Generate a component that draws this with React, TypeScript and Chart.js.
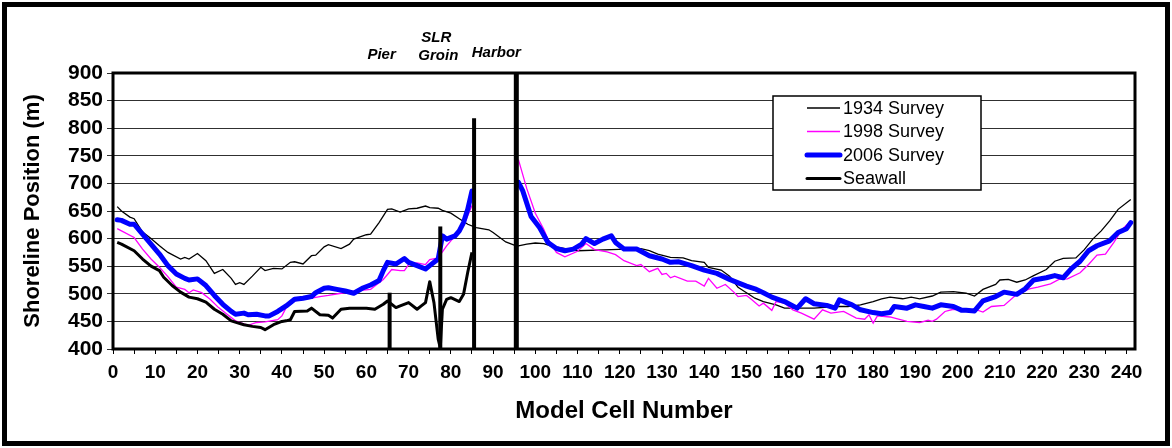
import { useEffect, useRef } from 'react';
import { Chart, registerables } from 'chart.js';

Chart.register(...registerables);

// ---- Data ----
const cells1934 = [1, 2, 4, 5, 7, 9, 11, 13, 16, 17, 18, 20, 22, 24, 26, 28, 29, 30, 31, 33, 35, 36, 38, 40, 42, 43, 45, 47, 48, 50, 51, 54, 56, 57, 60, 61, 63, 65, 66, 68, 70, 72, 74, 75, 77, 78, 80, 82, 84, 86, 89, 90, 93, 95, 96, 98, 100, 102, 104, 110, 118, 125, 127, 129, 132, 135, 137, 140, 141, 144, 146, 148, 150, 152, 154, 157, 159, 162, 166, 171, 174, 177, 180, 182, 184, 187, 189, 191, 194, 196, 199, 202, 204, 206, 209, 210, 212, 214, 216, 218, 221, 223, 225, 228, 230, 232, 234, 236, 238, 241];
const survey1934 = [658, 650, 639, 636, 612, 600, 587, 575, 563, 566, 563, 573, 560, 537, 544, 528, 517, 520, 517, 532, 548, 542, 546, 545, 557, 558, 554, 569, 570, 585, 589, 582, 590, 599, 607, 608, 629, 653, 654, 648, 654, 655, 659, 656, 655, 651, 646, 636, 626, 620, 616, 611, 594, 588, 587, 590, 592, 591, 586, 578, 580, 582, 578, 572, 566, 565, 560, 557, 548, 543, 532, 512, 502, 492, 486, 480, 474, 474, 474, 477, 477, 480, 486, 491, 494, 491, 494, 491, 496, 503, 504, 501, 496, 508, 517, 525, 526, 521, 525, 533, 544, 559, 564, 565, 580, 599, 614, 632, 653, 671];

const cells1998 = [1, 2, 5, 7, 9, 11, 13, 15, 17, 18, 19, 21, 23, 25, 27, 29, 32, 34, 36, 39, 40, 41, 43, 45, 47, 49, 51, 54, 57, 61, 62, 64, 66, 68, 69, 70, 72, 74, 75, 77, 79, 81, 83, 85, 90, 96, 98, 100, 102, 103, 105, 107, 110, 112, 114, 117, 119, 121, 124, 125, 127, 129, 130, 131, 132, 133, 136, 138, 140, 141, 143, 145, 147, 148, 150, 151, 153, 154, 156, 157, 159, 161, 163, 166, 168, 170, 173, 176, 178, 179, 180, 181, 184, 186, 188, 191, 193, 194, 195, 197, 199, 202, 204, 206, 208, 211, 214, 217, 219, 222, 224, 226, 229, 231, 233, 235, 237, 239, 241];
const survey1998 = [618, 614, 602, 581, 563, 548, 531, 512, 508, 502, 507, 502, 490, 475, 463, 451, 443, 448, 449, 453, 460, 475, 487, 490, 492, 495, 497, 501, 505, 508, 514, 526, 544, 542, 542, 553, 556, 553, 562, 565, 587, 605, 623, 660, null, 743, 690, 646, 617, 599, 575, 567, 577, 591, 580, 576, 571, 560, 551, 553, 540, 546, 535, 537, 529, 532, 523, 523, 514, 528, 510, 517, 503, 495, 497, 491, 478, 483, 470, 486, 483, 471, 465, 454, 471, 465, 468, 456, 454, 462, 447, 460, 458, 454, 450, 448, 452, 450, 454, 468, 472, 470, 472, 467, 477, 479, 499, 509, 512, 518, 526, 527, 538, 553, 570, 572, 593, 617, 632];

const cells2006 = [1, 2, 4, 5, 7, 9, 11, 13, 15, 17, 18, 20, 22, 24, 26, 28, 29, 31, 32, 34, 36, 37, 39, 41, 43, 45, 47, 48, 50, 51, 53, 55, 57, 59, 61, 63, 64, 65, 67, 69, 70, 72, 74, 75, 77, 78, 79, 81, 82, 83, 84, 85, 90, 96, 97, 99, 101, 103, 105, 107, 109, 111, 112, 114, 116, 118, 119, 121, 124, 127, 130, 132, 134, 137, 140, 143, 146, 147, 150, 152, 154, 156, 159, 162, 164, 166, 169, 171, 172, 175, 177, 180, 182, 184, 185, 188, 190, 192, 194, 196, 199, 201, 202, 204, 206, 209, 211, 214, 216, 218, 221, 223, 225, 227, 229, 231, 233, 236, 238, 240, 241];
const survey2006 = [634, 633, 626, 626, 608, 590, 572, 551, 536, 528, 525, 527, 515, 497, 481, 468, 463, 465, 462, 463, 460, 460, 468, 478, 490, 492, 495, 502, 510, 511, 508, 505, 501, 510, 516, 524, 542, 557, 554, 564, 557, 551, 545, 551, 563, 605, 599, 605, 614, 629, 653, 686, null, 702, 687, 640, 620, 593, 582, 578, 581, 590, 600, 591, 599, 605, 593, 581, 581, 569, 563, 557, 558, 551, 543, 537, 526, 523, 514, 509, 502, 494, 486, 474, 491, 482, 479, 474, 489, 480, 471, 466, 464, 466, 477, 474, 480, 477, 474, 480, 477, 470, 470, 469, 487, 495, 503, 499, 509, 525, 529, 533, 529, 546, 559, 578, 587, 596, 611, 618, 629];

const cellsSeawall = [1, 2, 5, 7, 9, 11, 12, 14, 16, 18, 20, 22, 24, 26, 28, 31, 33, 35, 36, 38, 40, 41, 42, 43, 46, 47, 49, 51, 52, 54, 56, 58, 60, 62, 64, 65, 67, 68, 70, 72, 73, 74, 75, 76, 77, 77.5, 78, 79, 80, 82, 83, 84, 85];
const seawall = [593, 590, 578, 563, 550, 542, 530, 515, 503, 494, 491, 485, 472, 463, 451, 444, 441, 439, 435, 444, 450, 451, 453, 468, 469, 474, 462, 461, 456, 472, 474, 474, 474, 472, 481, 487, 475, 478, 484, 472, 478, 484, 522, 484, 418, 402, 472, 490, 493, 486, 499, 539, 575];

// Structures (vertical lines from the base of the plot up to their top value)
const structureCells = [65.5, 77.5, 85.5, 95.5];
const structureTops = [502, 622, 818, 900];
const structureBase = 400;

const structureLabels = ['Pier', 'SLR', 'Groin', 'Harbor'];
const structureLabelCells = [65.5, 77.5, 77.5, 95.5];

const legendNames = ['1934 Survey', '1998 Survey', '2006 Survey', 'Seawall'];

const yMin = 400;
const yMax = 900;
const yStep = 50;
const xMin = 0;
const xMax = 242;

const FONT = 'Arial, "Liberation Sans", Helvetica, sans-serif';

function pairs(xs: number[], ys: (number | null)[]) {
  return xs.map((x, i) => ({ x, y: ys[i] === null || ys[i] === undefined ? null : ys[i] }));
}

const legendStyles = [
  { color: '#000000', width: 1.3 },
  { color: '#FF00FF', width: 1.3 },
  { color: '#0000FF', width: 5 },
  { color: '#000000', width: 3 },
];

const decorPlugin = {
  id: 'decor',
  beforeDatasetsDraw(chart: any) {
    const { ctx, chartArea: a } = chart;
    ctx.save();
    ctx.strokeStyle = '#000';
    ctx.lineWidth = 3;
    ctx.strokeRect(a.left, a.top, a.right - a.left, a.bottom - a.top);
    ctx.restore();
  },
  afterDraw(chart: any) {
    const { ctx } = chart;
    const xs = chart.scales.x;
    ctx.save();
    // Legend box
    const bx = 773, by = 96, bw = 208, bh = 94;
    ctx.fillStyle = '#fff';
    ctx.fillRect(bx, by, bw, bh);
    ctx.strokeStyle = '#000';
    ctx.lineWidth = 1.5;
    ctx.strokeRect(bx, by, bw, bh);
    ctx.font = '18px ' + FONT;
    ctx.textBaseline = 'middle';
    ctx.textAlign = 'left';
    legendNames.forEach((name, i) => {
      const y = 108 + i * 23.5;
      const st = legendStyles[i];
      ctx.beginPath();
      ctx.strokeStyle = st.color;
      ctx.lineWidth = st.width;
      ctx.lineCap = st.width > 2 ? 'round' : 'butt';
      ctx.moveTo(807, y);
      ctx.lineTo(840, y);
      ctx.stroke();
      ctx.fillStyle = '#000';
      ctx.fillText(name, 843, y + 1);
    });
    // Structure labels
    ctx.font = 'italic bold 15px ' + FONT;
    ctx.textAlign = 'center';
    ctx.fillStyle = '#000';
    const dx = [-8, -4, -2, -20];
    const ly = [55, 38, 56, 53];
    structureLabels.forEach((t, i) => {
      ctx.fillText(t, xs.getPixelForValue(structureLabelCells[i]) + dx[i], ly[i]);
    });
    // Outer frame
    ctx.strokeStyle = '#000';
    ctx.lineWidth = 5;
    ctx.lineCap = 'butt';
    ctx.strokeRect(4.5, 4.5, 1163, 439);
    ctx.restore();
  },
};

export default function App() {
  const ref = useRef<HTMLCanvasElement>(null);
  useEffect(() => {
    const canvas = ref.current;
    if (!canvas) return;
    const structureSets = structureCells.map((c, i) => ({
      label: 'structure' + i,
      data: [
        { x: c, y: structureBase },
        { x: c, y: structureTops[i] },
      ],
      borderColor: '#000',
      borderWidth: i === 3 ? 5 : 4,
      pointRadius: 0,
      order: 0,
    }));
    const chart = new Chart(canvas, {
      type: 'line',
      data: {
        datasets: [
          {
            label: legendNames[0],
            data: pairs(cells1934, survey1934),
            borderColor: '#000000',
            borderWidth: 1.3,
            pointRadius: 0,
            order: 4,
          },
          {
            label: legendNames[1],
            data: pairs(cells1998, survey1998),
            borderColor: '#FF00FF',
            borderWidth: 1.3,
            pointRadius: 0,
            order: 3,
          },
          {
            label: legendNames[2],
            data: pairs(cells2006, survey2006),
            borderColor: '#0000FF',
            borderWidth: 5,
            borderJoinStyle: 'round',
            borderCapStyle: 'round',
            pointRadius: 0,
            order: 2,
          },
          {
            label: legendNames[3],
            data: pairs(cellsSeawall, seawall),
            borderColor: '#000000',
            borderWidth: 3,
            borderJoinStyle: 'round',
            pointRadius: 0,
            order: 1,
          },
          ...structureSets,
        ] as any,
      },
      options: {
        responsive: false,
        animation: false,
        devicePixelRatio: 1,
        spanGaps: false,
        layout: { padding: { top: 73, right: 37, left: 0, bottom: 0 } },
        plugins: {
          legend: { display: false },
          tooltip: { enabled: false },
        },
        elements: { line: { tension: 0 } },
        scales: {
          x: {
            type: 'linear',
            min: xMin,
            max: xMax,
            border: { display: false },
            grid: {
              drawOnChartArea: false,
              drawTicks: true,
              tickLength: 5,
              color: '#000',
              lineWidth: 1,
            },
            ticks: {
              stepSize: 5,
              includeBounds: false,
              autoSkip: false,
              maxRotation: 0,
              padding: 7,
              color: '#000',
              font: { family: FONT, size: 19, weight: 'bold' },
              callback: (v: any) => (Number(v) % 10 === 0 ? String(v) : ''),
            },
            title: {
              display: true,
              text: 'Model Cell Number',
              color: '#000',
              font: { family: FONT, size: 24, weight: 'bold' },
              padding: { top: 0, bottom: 22 },
            },
            afterFit: (s: any) => {
              s.height = 99;
            },
          },
          y: {
            type: 'linear',
            min: yMin,
            max: yMax,
            border: { display: false },
            grid: {
              drawTicks: true,
              tickLength: 6,
              color: '#303030',
              lineWidth: 1,
            },
            ticks: {
              stepSize: yStep,
              autoSkip: false,
              padding: 4,
              color: '#000',
              font: { family: FONT, size: 21, weight: 'bold' },
            },
            title: {
              display: true,
              text: 'Shoreline Position (m)',
              color: '#000',
              font: { family: FONT, size: 22, weight: 'bold' },
              padding: { top: 20, bottom: 0 },
            },
            afterFit: (s: any) => {
              s.width = 113;
            },
          },
        },
      } as any,
      plugins: [decorPlugin],
    });
    return () => chart.destroy();
  }, []);
  return (
    <div style={{ position: 'absolute', left: 0, top: 0, width: 1172, height: 448, background: '#fff' }}>
      <canvas ref={ref} width={1172} height={448} style={{ display: 'block' }} />
    </div>
  );
}
